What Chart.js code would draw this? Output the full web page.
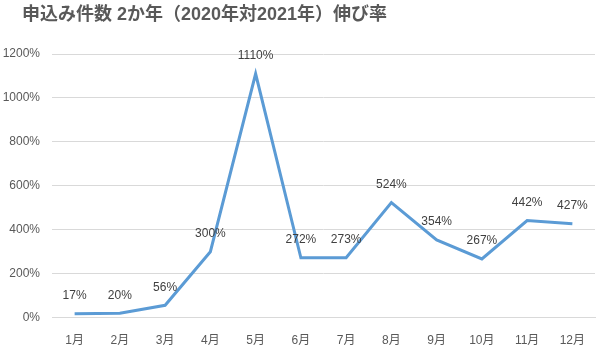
<!DOCTYPE html>
<html>
<head>
<meta charset="utf-8">
<script src="https://cdn.jsdelivr.net/npm/chart.js@4"></script>
<style>
    html, body { margin: 0; padding: 0; background: #fff; }
    #wrap { width: 608px; height: 357px; position: relative; }
    #title {
        position: absolute; left: 22px; top: 3px;
        font: bold 18px "Liberation Sans", "Noto Sans CJK JP", sans-serif;
        color: #595959; line-height: 22px; white-space: nowrap;
    }
</style>
</head>
<body>
<div id="wrap">
    <div id="title">申込み件数 2か年（2020年対2021年）伸び率</div>
    <canvas id="growthChart"></canvas>
</div>
<script>
const months = ['1月', '2月', '3月', '4月', '5月', '6月', '7月', '8月', '9月', '10月', '11月', '12月'];
const growthRates = [17, 20, 56, 300, 1110, 272, 273, 524, 354, 267, 442, 427];
const yTicks = [0, 200, 400, 600, 800, 1000, 1200];

const FONT = '"Liberation Sans", "Noto Sans CJK JP", sans-serif';

// labels drawn above each point, Excel style
const pointLabels = {
    id: 'pointLabels',
    afterDatasetsDraw(chart) {
        const ctx = chart.ctx;
        const meta = chart.getDatasetMeta(0);
        ctx.save();
        ctx.font = '12px ' + FONT;
        ctx.fillStyle = '#404040';
        ctx.textAlign = 'center';
        ctx.textBaseline = 'bottom';
        meta.data.forEach((pt, i) => {
            ctx.fillText(growthRates[i] + '%', pt.x, pt.y - 12);
        });
        ctx.restore();
    }
};

new Chart(document.getElementById('growthChart'), {
    type: 'line',
    data: {
        labels: months,
        datasets: [{
            data: growthRates,
            borderColor: '#5B9BD5',
            borderWidth: 3,
            pointRadius: 0,
            tension: 0,
            fill: false
        }]
    },
    options: {
        responsive: true,
        maintainAspectRatio: false,
        animation: false,
        layout: { padding: { left: 3, right: 13, top: 54, bottom: 1 } },
        plugins: {
            legend: { display: false },
            tooltip: { enabled: false }
        },
        scales: {
            x: {
                offset: true,
                grid: { display: false },
                border: { display: true, color: '#d9d9d9', width: 1 },
                ticks: { color: '#595959', font: { family: FONT, size: 12 }, padding: 8 }
            },
            y: {
                min: 0,
                max: 1200,
                afterBuildTicks(axis) { axis.ticks = yTicks.map(v => ({ value: v })); },
                afterFit(axis) { axis.width = 49; },
                grid: { color: '#d9d9d9', drawTicks: false },
                border: { display: false },
                ticks: {
                    color: '#595959',
                    font: { family: FONT, size: 12 },
                    padding: 12,
                    callback: v => v + '%'
                }
            }
        }
    },
    plugins: [pointLabels]
});
</script>
</body>
</html>
